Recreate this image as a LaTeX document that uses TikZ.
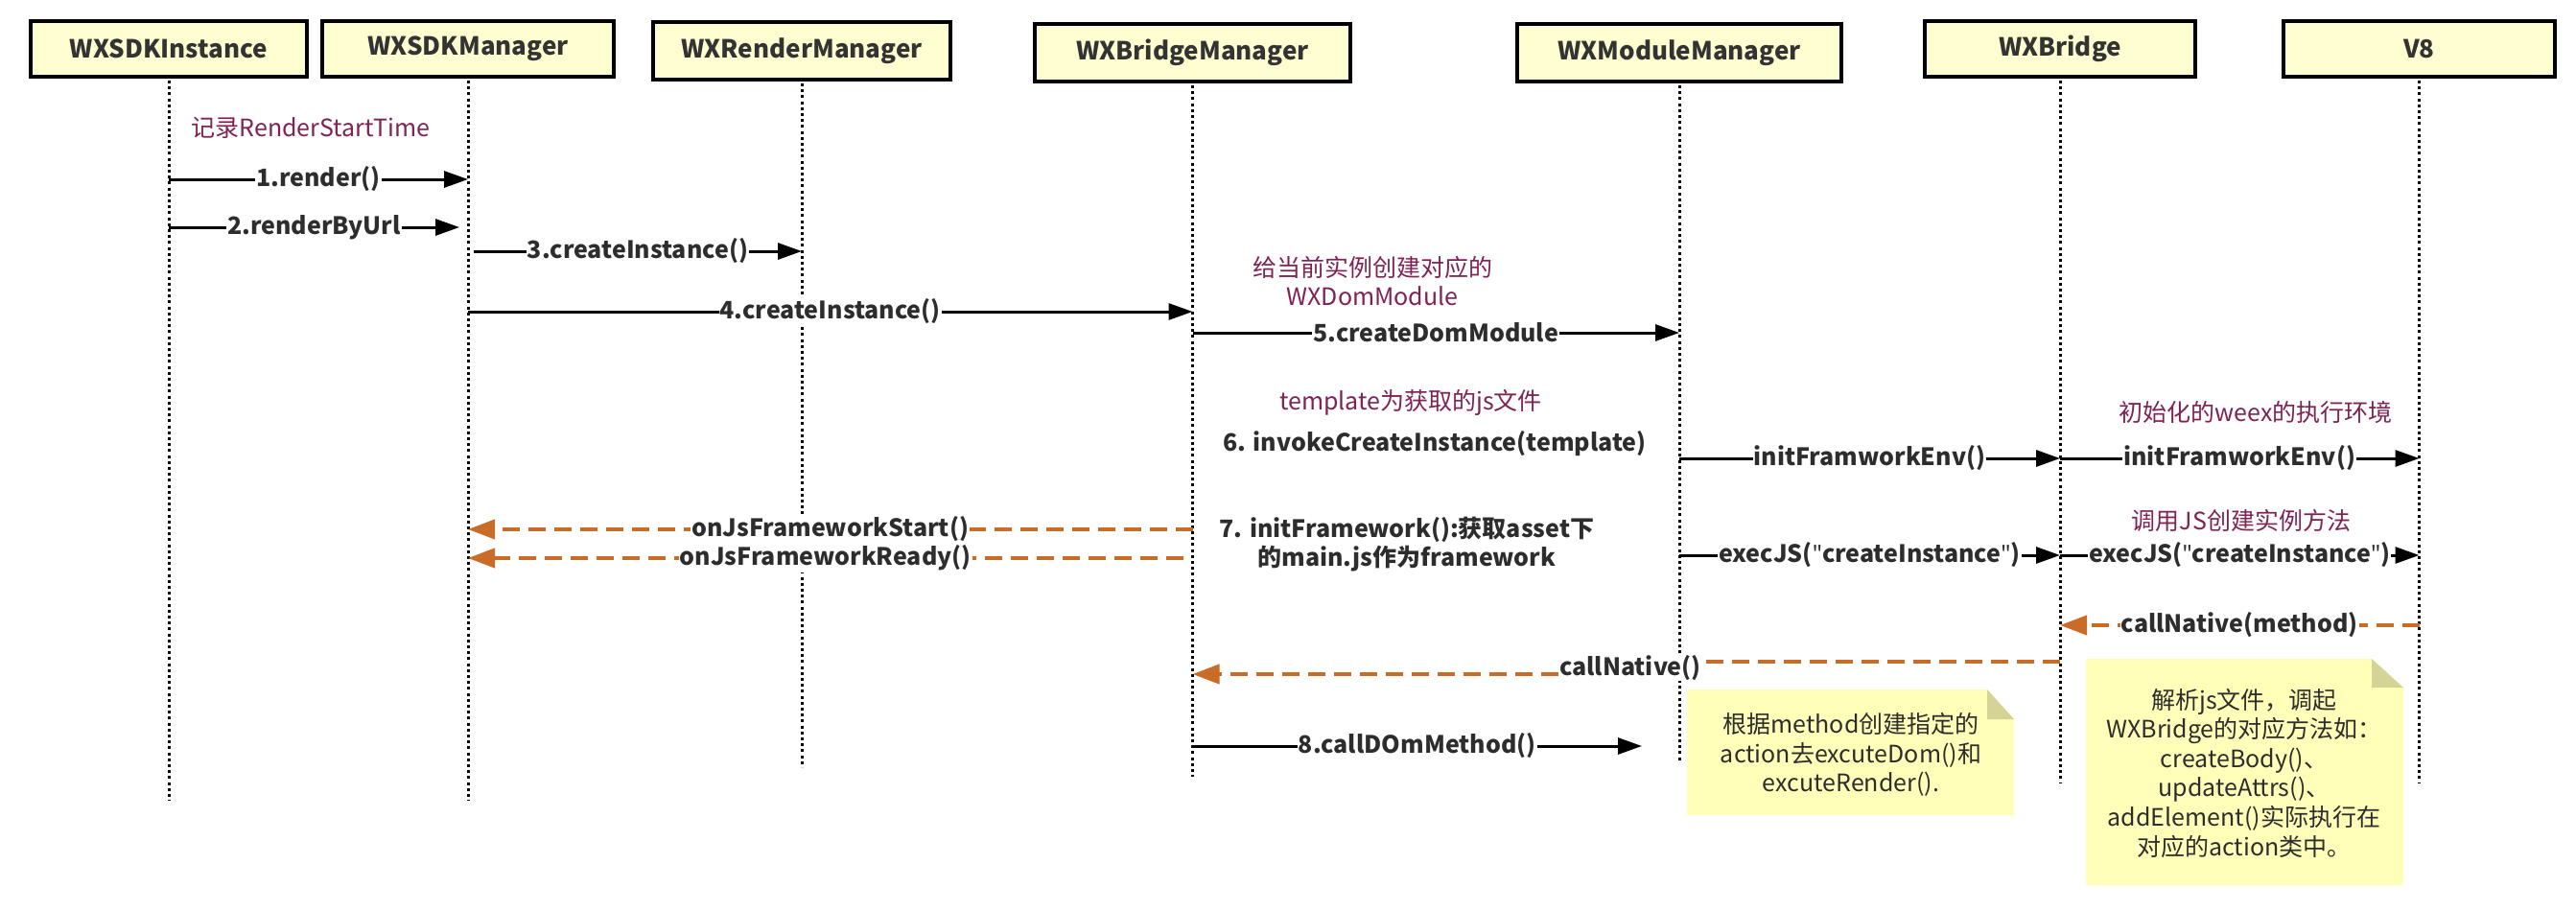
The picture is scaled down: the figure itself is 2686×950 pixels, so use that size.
\documentclass[tikz,border=0pt]{standalone}
\usepackage{fontspec}
\setmainfont{Noto Sans CJK SC}
\newfontfamily\qfont{Noto Sans}
\newcommand{\dq}{{\qfont\bfseries\symbol{"22}}}
\usetikzlibrary{arrows.meta,calc}
\definecolor{hdrfill}{RGB}{254,254,208}
\definecolor{hdrtext}{RGB}{51,51,51}
\definecolor{orng}{RGB}{200,108,40}
\definecolor{purp}{RGB}{128,34,84}
\definecolor{notefill}{RGB}{255,255,185}
\definecolor{notefold}{RGB}{212,212,150}
\definecolor{txt}{RGB}{45,45,45}
\begin{document}
\begin{tikzpicture}[x=1pt,y=-1pt,
  hdr/.style={draw=black, line width=4pt, fill=hdrfill, inner sep=0pt, text=hdrtext,
    font=\fontsize{26}{30}\selectfont\bfseries},
  life/.style={line width=3pt, dash pattern=on 3pt off 3.2pt, black},
  msg/.style={line width=3pt, -{Triangle[length=25pt,width=17pt]}},
  retline/.style={line width=4pt, orng, dash pattern=on 18pt off 9pt},
  ret/.style={retline, -{Triangle[length=28pt,width=20pt]}},
  lbl/.style={fill=white, inner xsep=1pt, inner ysep=2pt, text=txt,
    font=\fontsize{25}{30}\selectfont\bfseries},
  ann/.style={text=purp, font=\fontsize{25}{30}\selectfont, align=center, inner sep=0pt},
  btxt/.style={text=txt, font=\fontsize{25}{30}\selectfont\bfseries, align=center, inner sep=0pt},
  ntxt/.style={text=txt, font=\fontsize{25}{30.6}\selectfont, align=center, inner sep=0pt},
]
\useasboundingbox[fill=white] (0,0) rectangle (2686,950);

% headers
\node[hdr, minimum width=288pt, minimum height=58pt] (hA) at (176,51) {WXSDKInstance};
\node[hdr, minimum width=304pt, minimum height=58pt] (hB) at (488,51) {WXSDKManager};
\node[hdr, minimum width=310pt, minimum height=60pt] (hC) at (836,53) {WXRenderManager};
\node[hdr, minimum width=329pt, minimum height=60pt] (hD) at (1243.5,55) {WXBridgeManager};
\node[hdr, minimum width=338pt, minimum height=60pt] (hE) at (1751,55) {WXModuleManager};
\node[hdr, minimum width=282pt, minimum height=58pt] (hF) at (2148,51) {WXBridge};
\node[hdr, minimum width=283pt, minimum height=58pt] (hG) at (2522.5,51) {V8};

% rows
\coordinate (y187) at (0,187);
\coordinate (y237) at (0,237);
\coordinate (y262) at (0,262);
\coordinate (y325) at (0,325);
\coordinate (y347) at (0,347);
\coordinate (y478) at (0,478);
\coordinate (y552) at (0,552);
\coordinate (y582) at (0,582);
\coordinate (y579) at (0,579);
\coordinate (y652) at (0,652);
\coordinate (y690) at (0,690);
\coordinate (y703) at (0,703);
\coordinate (y778) at (0,778);

% lifeline ends
\coordinate (eA) at ($(hA.center)+(0,784)$);
\coordinate (eB) at ($(hB.center)+(0,784)$);
\coordinate (eC) at ($(hC.center)+(0,747)$);
\coordinate (eD) at ($(hD.center)+(0,755)$);
\coordinate (eE) at ($(hE.center)+(0,738)$);
\coordinate (eF) at ($(hF.center)+(0,766)$);
\coordinate (eG) at ($(hG.center)+(0,766)$);

\foreach \h/\e in {hA/eA,hB/eB,hC/eC,hD/eD,hE/eE,hF/eF,hG/eG}
  \draw[life] ([yshift=-2pt]\h.south) -- (\e);

% annotations
\node[ann] (a1) at (324,133) {记录RenderStartTime};
\node[ann] (a2) at (1431,293) {给当前实例创建对应的\\WXDomModule};
\node[ann] (a3) at (1471,420) {template为获取的js文件};
\node[btxt] (t6) at (1496,463) {6. invokeCreateInstance(template)};
\node[btxt, align=center] (t7) at (1467,568) {7. initFramework():获取asset下\\的main.js作为framework};
\node[ann] (a4) at (2352,430) {初始化的weex的执行环境};
\node[ann] (a5) at (2337,543) {调用JS创建实例方法};

% messages
\draw[msg] (hA |- y187) -- node[lbl]{1.render()} (hB |- y187);
\coordinate (m2e) at ($(hB |- y237)+(-9,0)$);
\draw[msg] (hA |- y237) -- node[lbl]{2.renderByUrl} (m2e);
\coordinate (m3s) at ($(hB |- y262)+(6,0)$);
\draw[msg] (m3s) -- node[lbl]{3.createInstance()} (hC |- y262);
\draw[msg] (hB |- y325) -- node[lbl]{4.createInstance()} (hD |- y325);
\draw[msg] (hD |- y347) -- node[lbl]{5.createDomModule} (hE |- y347);
\draw[msg] (hE |- y478) -- node[lbl]{initFramworkEnv()} (hF |- y478);
\draw[msg] (hF |- y478) -- node[lbl]{initFramworkEnv()} (hG |- y478);
\draw[msg] (hE |- y579) -- node[lbl]{execJS(\dq createInstance\dq)} (hF |- y579);
\draw[msg] (hF |- y579) -- node[lbl]{execJS(\dq createInstance\dq)} (hG |- y579);

\draw[ret] (hD |- y552) -- node[lbl]{onJsFrameworkStart()} (hB |- y552);
\coordinate (m7s) at ($(hD |- y582)+(-10,0)$);
\draw[ret] (m7s) -- node[lbl]{onJsFrameworkReady()} (hB |- y582);
\draw[ret] (hG |- y652) -- node[lbl]{callNative(method)} (hF |- y652);

\node[lbl, inner ysep=0pt] (cn) at (1700,697) {callNative()};
\draw[retline] (hF |- y690) -- (cn.east |- y690);
\draw[ret] (cn.west |- y703) -- (hD |- y703);

\coordinate (m8e) at (1712,778);
\draw[msg] (hD |- y778) -- node[lbl]{8.callDOmMethod()} (m8e);

% notes
\fill[notefill] (1759,719) -- (2072,719) -- (2100,750) -- (2100,850) -- (1759,850) -- cycle;
\fill[notefold] (2072,719) -- (2100,750) -- (2072,750) -- cycle;
\node[ntxt] (n1) at (1930,787) {根据method创建指定的\\action去excuteDom()和\\excuteRender().};

\fill[notefill] (2175,687) -- (2473,687) -- (2506,717) -- (2506,923) -- (2175,923) -- cycle;
\fill[notefold] (2473,687) -- (2506,717) -- (2473,717) -- cycle;
\node[ntxt] (n2) at (2340,806) {解析js文件，调起\\WXBridge的对应方法如：\\createBody()、\\updateAttrs()、\\addElement()实际执行在\\对应的action类中。};
\end{tikzpicture}
\end{document}
